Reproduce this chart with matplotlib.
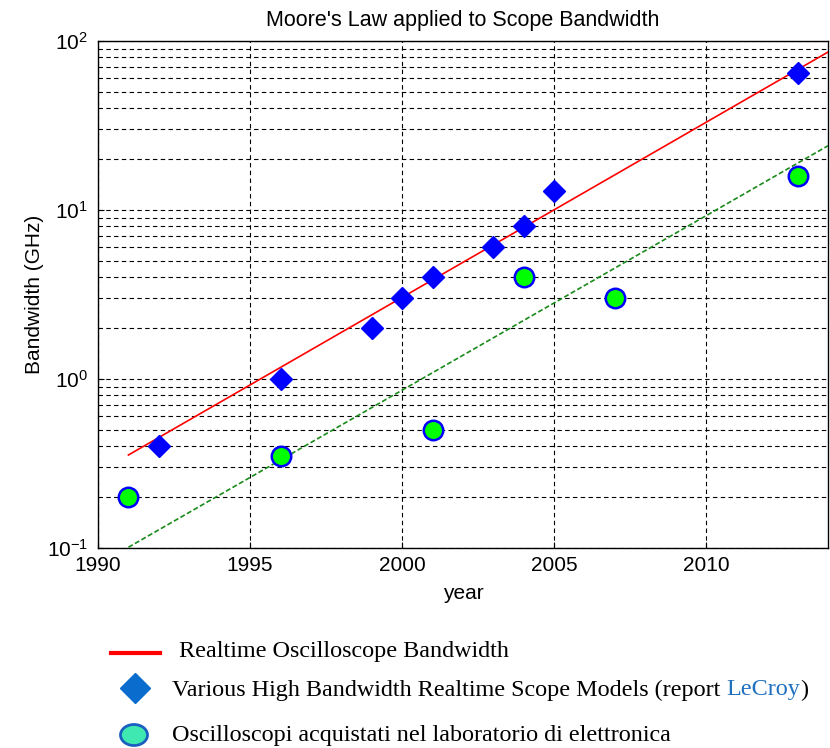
import matplotlib
matplotlib.use("Agg")
import matplotlib.pyplot as plt
from matplotlib.lines import Line2D
from matplotlib.patches import Ellipse
from matplotlib.ticker import LogLocator, FixedLocator

# ---- data ----
scope_years = [1992, 1996, 1999, 2000, 2001, 2003, 2004, 2005, 2013]
scope_bw = [0.4, 1.0, 2.0, 3.0, 4.0, 6.0, 8.0, 13.0, 65.0]
lab_years = [1991, 1996, 2001, 2004, 2007, 2013]
lab_bw = [0.2, 0.35, 0.5, 4.0, 3.0, 16.0]
trend_years = [1991, 2014]
red_trend_bw = [0.355, 86.0]
green_trend_bw = [0.101, 24.0]
x_ticks = [1990, 1995, 2000, 2005, 2010]

title = "Moore's Law applied to Scope Bandwidth"
legend_labels = ["Realtime Oscilloscope Bandwidth",
                 "Various High Bandwidth Realtime Scope Models (report ",
                 "LeCroy", ")",
                 "Oscilloscopi acquistati nel laboratorio di elettronica"]

plt.rcParams['font.family'] = ['Liberation Sans', 'DejaVu Sans']
plt.rcParams['mathtext.fontset'] = 'custom'
plt.rcParams['mathtext.rm'] = 'Liberation Sans'
plt.rcParams['mathtext.it'] = 'Liberation Sans'

W, H = 830, 748
fig = plt.figure(figsize=(W / 100, H / 100), dpi=100)
ax = fig.add_axes([98 / W, 1 - 548 / H, (828 - 98) / W, (548 - 41) / H])

ax.set_yscale('log')
ax.set_xlim(1990.0, 2014.0)
ax.set_ylim(0.1, 100)

grid_kw = dict(color='black', linestyle=(0, (4, 3)), linewidth=0.8)
ax.yaxis.set_major_locator(LogLocator(base=10))
ax.yaxis.set_minor_locator(LogLocator(base=10, subs=range(2, 10)))
ax.xaxis.set_major_locator(FixedLocator(x_ticks))
ax.grid(True, which='major', axis='both', **grid_kw)
ax.grid(True, which='minor', axis='y', **grid_kw)
ax.set_axisbelow(True)

ax.plot(trend_years, red_trend_bw, color='red', linewidth=1.2, zorder=3)
ax.plot(trend_years, green_trend_bw, color='#1a8a1a', linewidth=1.2,
        linestyle=(0, (3, 1.5)), zorder=3)
ax.plot(scope_years, scope_bw, linestyle='none', marker='D', markersize=11,
        markerfacecolor='#0000ff', markeredgecolor='#0000ff', zorder=4)
ax.plot(lab_years, lab_bw, linestyle='none', marker='o', markersize=14,
        markerfacecolor='#00ff00', markeredgecolor='#0000ff',
        markeredgewidth=1.8, zorder=4)

fs = 15
ax.tick_params(which='both', direction='in', labelsize=fs, colors='black')
ax.tick_params(which='major', length=4)
ax.tick_params(which='minor', length=2)
ax.tick_params(axis='x', pad=6)
ax.tick_params(axis='y', pad=7)
for s in ax.spines.values():
    s.set_linewidth(1.0)

ax.set_title(title, fontsize=15.5, pad=11)
ax.set_xlabel('year', fontsize=fs, labelpad=6)
ax.set_ylabel('Bandwidth (GHz)', fontsize=fs, labelpad=2)

# ---- legend drawn below the chart ----
def fx(px):
    return px / W

def fy(py):
    return 1 - py / H

serif = ['Liberation Serif', 'DejaVu Serif']
lfs = 17.4
fig.add_artist(Line2D([fx(111), fx(160)], [fy(653), fy(653)], color='red',
                      linewidth=3, transform=fig.transFigure))
fig.text(fx(179), fy(652), legend_labels[0], family=serif, fontsize=lfs,
         va='center', ha='left')

fig.add_artist(Line2D([fx(135)], [fy(688)], marker='D', markersize=15.5,
                      markerfacecolor='#0a6ccc', markeredgecolor='#0a6ccc',
                      linestyle='none', transform=fig.transFigure))
t1 = fig.text(fx(172), fy(690), legend_labels[1], family=serif, fontsize=lfs,
              va='center', ha='left')
fig.canvas.draw()
r = fig.canvas.get_renderer()
bb = t1.get_window_extent(renderer=r)
t2 = fig.text(bb.x1 / W, fy(690), legend_labels[2], family=serif, fontsize=lfs,
              va='center', ha='left', color='#2070c0')
bb2 = t2.get_window_extent(renderer=r)
fig.text(bb2.x1 / W, fy(690), legend_labels[3], family=serif, fontsize=lfs,
         va='center', ha='left')

fig.add_artist(Ellipse((fx(134), fy(735)), width=27 / W, height=21 / H,
                       facecolor='#3ee8b0', edgecolor='#1a5fc0',
                       linewidth=2, transform=fig.transFigure))
fig.text(fx(172), fy(735), legend_labels[4], family=serif, fontsize=lfs,
         va='center', ha='left')

fig.savefig('out.png', dpi=100)
